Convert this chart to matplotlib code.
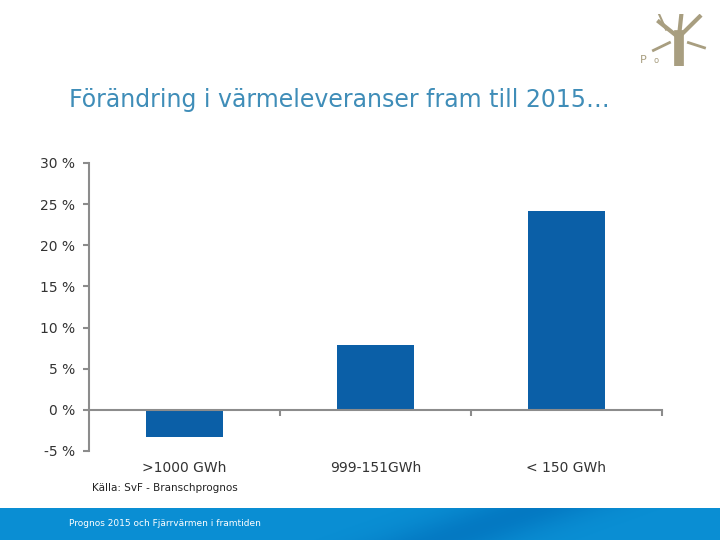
import matplotlib
matplotlib.use("Agg")
import matplotlib.pyplot as plt
import numpy as np

# Datos del gráfico
categorias = [">1000 GWh", "999-151GWh", "< 150 GWh"]
valores = [-3.3, 7.9, 24.2]
ticks_y = [-5, 0, 5, 10, 15, 20, 25, 30]
etiquetas_y = [f"{t} %" for t in ticks_y]

titulo = "Förändring i värmeleveranser fram till 2015…"
fuente = "Källa: SvF - Branschprognos"
pie = "Prognos 2015 och Fjärrvärmen i framtiden"

gris = "#8c8c8c"
azul_barra = "#0b5fa7"

fig = plt.figure(figsize=(7.2, 5.4), dpi=100)

# Título
fig.text(69 / 720, 1 - 100 / 540, titulo, color="#3f8db8", fontsize=17,
         ha="left", va="center", family="DejaVu Sans")

# Gráfico de barras
ax = fig.add_axes([89 / 720, 1 - 451 / 540, (662 - 89) / 720, (451 - 163) / 540])
x = np.arange(len(categorias))
ax.bar(x, valores, width=0.4, color=azul_barra)
ax.set_xlim(-0.5, 2.5)
ax.set_ylim(-5, 30)
ax.set_yticks(ticks_y)
ax.set_yticklabels(etiquetas_y, fontsize=10, color="#333333")
ax.set_xticks([0.5, 1.5, 2.5])
ax.set_xticklabels([])

for lado in ["top", "right"]:
    ax.spines[lado].set_visible(False)
ax.spines["bottom"].set_position(("data", 0))
ax.spines["left"].set_color(gris)
ax.spines["bottom"].set_color(gris)
ax.spines["left"].set_linewidth(1.5)
ax.spines["bottom"].set_linewidth(1.5)
ax.tick_params(axis="y", direction="out", length=4, width=1.5, color=gris, pad=6)
ax.tick_params(axis="x", direction="out", length=4, width=1.5, color=gris)

for xi, cat in zip(x, categorias):
    ax.text(xi, -0.06, cat, transform=ax.get_xaxis_transform(), ha="center",
            va="center", fontsize=10, color="#333333")

# Fuente
fig.text(92 / 720, 1 - 488 / 540, fuente, fontsize=7.5, color="#222222",
         ha="left", va="center")

# Banda inferior azul con degradado
banda = fig.add_axes([0, 0, 1, 32 / 540])
gx = np.linspace(0, 1, 300)
gy = np.linspace(0, 1, 30)
GX, GY = np.meshgrid(gx, gy)
onda = np.exp(-((GX - 0.62 - 0.12 * GY) ** 2) / 0.01)
base = np.array([0.04, 0.56, 0.83])
oscuro = np.array([0.0, 0.42, 0.72])
img = base[None, None, :] * (1 - 0.6 * onda[..., None]) + oscuro[None, None, :] * 0.6 * onda[..., None]
banda.imshow(img, aspect="auto", extent=[0, 1, 0, 1], origin="lower")
banda.set_axis_off()
banda.text(69 / 720, 0.5, pie, color="white", fontsize=6.5, ha="left",
           va="center", transform=banda.transAxes)

# Logo simple (árbol)
logo = fig.add_axes([638 / 720, 1 - 66 / 540, 70 / 720, 52 / 540])
c_logo = "#a89e80"
logo.plot([0.58, 0.58], [0.0, 0.6], color=c_logo, lw=7)
logo.plot([0.58, 0.3], [0.55, 0.85], color=c_logo, lw=3)
logo.plot([0.58, 0.88], [0.55, 0.95], color=c_logo, lw=3)
logo.plot([0.58, 0.62], [0.5, 1.0], color=c_logo, lw=3)
logo.plot([0.45, 0.22], [0.45, 0.3], color=c_logo, lw=2)
logo.plot([0.72, 0.95], [0.45, 0.35], color=c_logo, lw=2)
logo.plot([0.4, 0.3], [0.7, 1.0], color=c_logo, lw=1.5)
logo.text(0.02, 0.02, "P", color=c_logo, fontsize=8, ha="left", va="bottom")
logo.text(0.22, 0.02, "o", color=c_logo, fontsize=6, ha="left", va="bottom")
logo.set_xlim(0, 1)
logo.set_ylim(0, 1)
logo.set_axis_off()

fig.savefig("out.png", dpi=100)
